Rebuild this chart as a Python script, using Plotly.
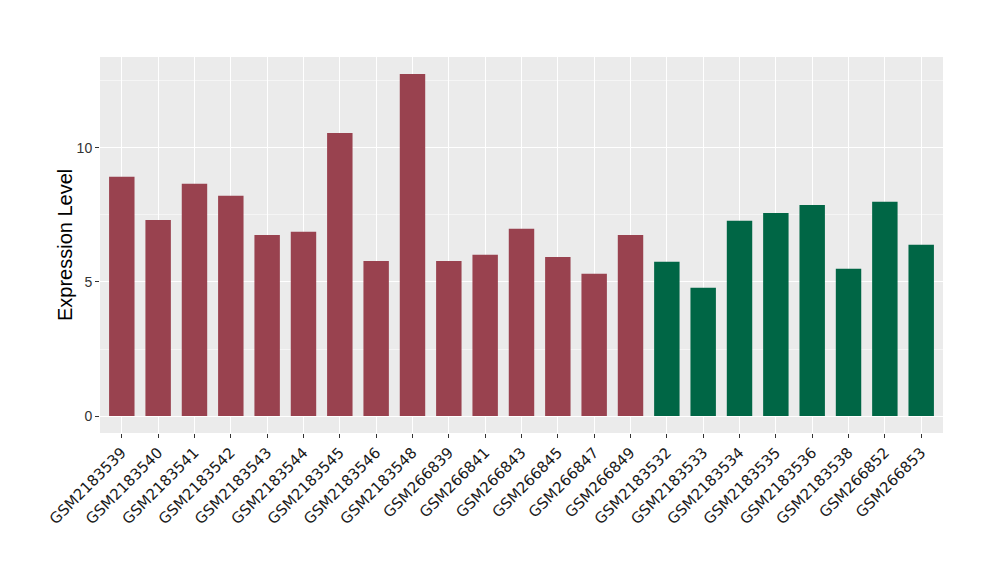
import plotly.graph_objects as go

samples = ["GSM2183539", "GSM2183540", "GSM2183541", "GSM2183542", "GSM2183543",
           "GSM2183544", "GSM2183545", "GSM2183546", "GSM2183548", "GSM266839",
           "GSM266841", "GSM266843", "GSM266845", "GSM266847", "GSM266849",
           "GSM2183532", "GSM2183533", "GSM2183534", "GSM2183535", "GSM2183536",
           "GSM2183538", "GSM266852", "GSM266853"]
values = [8.92, 7.31, 8.66, 8.21, 6.75, 6.87, 10.55, 5.78, 12.75, 5.78,
          6.01, 6.98, 5.93, 5.30, 6.75, 5.75, 4.78, 7.28, 7.57, 7.87,
          5.49, 7.99, 6.38]
groups = ["A"] * 15 + ["B"] * 8
group_colors = {"A": "#99424F", "B": "#006645"}

fig = go.Figure()
fig.add_trace(go.Bar(
    x=samples, y=values,
    marker=dict(color=[group_colors[g] for g in groups], line=dict(width=0)),
    width=0.7, showlegend=False,
))

fig.update_layout(
    width=1000, height=580,
    margin=dict(l=92, r=65, t=49, b=155),
    paper_bgcolor="white", plot_bgcolor="#EBEBEB",
    font=dict(family="Liberation Sans, Arial, sans-serif", color="#1a1a1a"),
    xaxis=dict(
        type="category", range=[-0.6, 22.6], automargin=False,
        tickangle=-45, tickfont=dict(family="DejaVu Sans", size=15, color="#1a1a1a"),
        showgrid=True, gridcolor="white", gridwidth=1.2,
        ticks="outside", ticklen=4, tickcolor="#333333", tickwidth=1,
        zeroline=False, showline=False,
    ),
    yaxis=dict(
        range=[-0.63, 13.38], automargin=False,
        tickvals=[0, 5, 10], ticktext=["0", "5", "10"],
        tickfont=dict(size=14, color="#333333"),
        showgrid=True, gridcolor="white", gridwidth=1.2,
        minor=dict(tickvals=[2.5, 7.5, 12.5], showgrid=True, gridcolor="#F5F5F5", gridwidth=0.6, ticks=""),
        ticks="outside", ticklen=4, tickcolor="#333333", tickwidth=1,
        zeroline=False, showline=False,
    ),
    annotations=[dict(
        text="Expression Level", xref="paper", yref="paper",
        x=-0.0415, y=0.5, xanchor="center", yanchor="middle",
        textangle=-90, showarrow=False,
        font=dict(size=20, color="black"),
    )],
)

fig.write_html("out.html")
